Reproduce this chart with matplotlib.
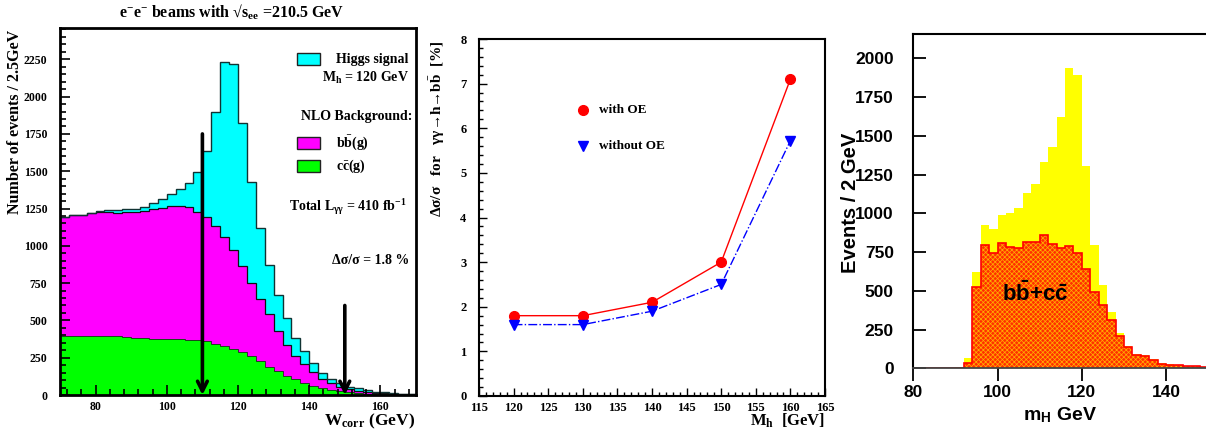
import matplotlib
matplotlib.use('Agg')
import matplotlib.pyplot as plt
import numpy as np
from matplotlib.patches import Rectangle
from matplotlib.ticker import MultipleLocator, FixedLocator

plt.rcParams['mathtext.fontset'] = 'custom'
plt.rcParams['mathtext.rm'] = 'Liberation Serif:bold'
plt.rcParams['mathtext.bf'] = 'Liberation Serif:bold'
plt.rcParams['mathtext.it'] = 'Liberation Serif:bold'
plt.rcParams['mathtext.sf'] = 'Liberation Sans:bold'
plt.rcParams['hatch.linewidth'] = 0.5

SERIF = ['Liberation Serif', 'DejaVu Serif']
SANS = ['Liberation Sans', 'DejaVu Sans']

# ---------------- data: panel 1 (W_corr, 2.5 GeV bins from 70 to 170) ----------------
w_lo, w_hi, w_bin = 70.0, 170.0, 2.5
cc_counts = [394, 394, 396, 398, 398, 398, 394, 389, 385, 380, 376, 376, 376, 374, 371, 367,
             360, 344, 326, 308, 286, 259, 230, 191, 162, 130, 106, 79, 61, 45, 34, 25, 18, 14,
             9, 7, 4, 3, 2, 1]
bb_counts = [799, 810, 808, 822, 831, 828, 826, 837, 844, 853, 868, 880, 889, 894, 887, 859,
             833, 788, 732, 667, 580, 495, 411, 349, 266, 208, 157, 128, 90, 63, 45, 31, 20, 15,
             11, 9, 8, 5, 4, 3]
higgs_counts = [0, 0, 4, 2, 6, 14, 20, 18, 20, 29, 41, 60, 81, 112, 166, 271, 442, 763, 1174,
                1247, 954, 675, 477, 331, 245, 180, 120, 86, 63, 38, 29, 27, 18, 16, 14, 6, 6,
                3, 3, 3]
arrow_cuts = [110, 150]
arrow_tops = [1750, 600]

# ---------------- data: panel 2 ----------------
mh = [120, 130, 140, 150, 160]
err_with_oe = [1.8, 1.8, 2.1, 3.0, 7.1]
err_without_oe = [1.6, 1.6, 1.9, 2.5, 5.72]

# ---------------- data: panel 3 (m_H, 2 GeV bins from 80) ----------------
m_lo, m_bin = 80.0, 2.0
total3 = [0, 0, 0, 0, 2, 8, 69, 619, 925, 899, 987, 1000, 1034, 1131, 1191, 1331, 1428, 1621,
          1940, 1890, 1307, 796, 535, 361, 228, 142, 92, 84, 60, 34, 26, 21, 18, 18, 8]
bkg3 = [2, 2, 2, 2, 2, 5, 34, 523, 794, 742, 811, 781, 774, 815, 815, 858, 800, 778, 787, 746,
        641, 492, 409, 312, 211, 140, 88, 78, 56, 30, 24, 19, 15, 15, 6]
xticks3 = [80, 100, 120, 140]

W, H = 1206, 432
fig = plt.figure(figsize=(W / 100, H / 100), dpi=100)


def fx(x):
    return x / W


def fy(y):
    return 1 - y / H


# ======================= Panel 1 =======================
ax1 = fig.add_axes([fx(60), 37 / H, 356 / W, 367 / H])
cc = np.array(cc_counts, float)
bb = np.array(bb_counts, float)
hg = np.array(higgs_counts, float)
edges1 = w_lo + w_bin * np.arange(len(cc) + 1)
ax1.stairs(cc, edges1, baseline=0, fill=True, color='#00ff00', lw=0)
ax1.stairs(cc + bb, edges1, baseline=cc, fill=True, color='#ff00ff', lw=0)
ax1.stairs(cc + bb + hg, edges1, baseline=cc + bb, fill=True, color='#00ffff', lw=0)
ax1.stairs(cc, edges1, baseline=None, color='#222222', lw=0.6)
ax1.stairs(cc + bb, edges1, baseline=None, color='#111111', lw=0.9)
ax1.stairs(cc + bb + hg, edges1, baseline=None, color='#113333', lw=1.0)
for xc, yt in zip(arrow_cuts, arrow_tops):
    ax1.annotate('', xy=(xc, 0), xytext=(xc, yt),
                 arrowprops=dict(arrowstyle='->,head_length=0.7,head_width=0.35',
                                 lw=2.6, color='black', shrinkA=0, shrinkB=0))
ax1.set_xlim(w_lo, w_hi)
ax1.set_ylim(0, 2460)
ax1.xaxis.set_major_locator(MultipleLocator(20))
ax1.xaxis.set_minor_locator(MultipleLocator(4))
ax1.yaxis.set_major_locator(MultipleLocator(250))
ax1.yaxis.set_minor_locator(MultipleLocator(50))
ax1.tick_params(which='both', direction='in', top=False, right=False, width=1.2)
ax1.tick_params(which='major', length=7)
ax1.tick_params(which='minor', length=4)
ax1.tick_params(axis='y', pad=9)
ax1.tick_params(axis='x', pad=4)
for s in ax1.spines.values():
    s.set_linewidth(2)
for lab in ax1.get_xticklabels() + ax1.get_yticklabels():
    lab.set_family(SERIF)
    lab.set_weight('bold')
    lab.set_fontsize(8.5)

# legend boxes
for y0, col in [(53, '#00ffff'), (137, '#ff00ff'), (160, '#00ff00')]:
    fig.patches.append(Rectangle((fx(297), fy(y0 + 11.5)), 23 / W, 11.5 / H,
                                 transform=fig.transFigure, facecolor=col,
                                 edgecolor='#222222', lw=1))
tkw = dict(family=SERIF, weight='bold', fontsize=10, va='center')
fig.text(fx(336), fy(59), 'Higgs signal', ha='left', **tkw)
fig.text(fx(409), fy(78), r'M$_{\mathbf{h}}$ = 120 GeV', ha='right', **tkw)
fig.text(fx(412), fy(116), 'NLO Background:', ha='right', **tkw)
fig.text(fx(336), fy(143), r'b$\bar{\mathbf{b}}$(g)', ha='left', **tkw)
fig.text(fx(336), fy(166), r'c$\bar{\mathbf{c}}$(g)', ha='left', **tkw)
fig.text(fx(406), fy(207), r'Total L$_{\gamma\gamma}$ = 410 fb$^{\mathbf{-1}}$', ha='right', **tkw)
fig.text(fx(409), fy(260), 'Δσ/σ = 1.8 %', ha='right', **tkw)

fig.text(fx(232), fy(12), r'e$^{\mathbf{-}}$e$^{\mathbf{-}}$ beams with √s$_{\mathbf{ee}}$ =210.5 GeV',
         ha='center', va='center', family=SERIF, weight='bold', fontsize=11.5)
fig.text(fx(15), fy(30), 'Number of events / 2.5GeV', rotation=90, ha='center', va='top',
         family=SERIF, weight='bold', fontsize=11.5)
fig.text(fx(415), fy(421), r'W$_{\mathbf{corr}}$ (GeV)', ha='right', va='center',
         family=SERIF, weight='bold', fontsize=12.5)

# ======================= Panel 2 =======================
ax2 = fig.add_axes([fx(479), 36 / H, 346 / W, 357 / H])
ax2.plot(mh, err_with_oe, '-', color='red', lw=1.0, marker='o', ms=7, mfc='red', mec='red')
ax2.plot(mh, err_without_oe, '-.', color='blue', lw=1.0, marker='v', ms=7, mfc='blue', mec='blue')
ax2.plot([130], [6.4], 'o', color='red', ms=7)
ax2.plot([130], [5.6], 'v', color='blue', ms=7)
ax2.text(132.3, 6.4, 'with OE', ha='left', va='center', family=SERIF, weight='bold', fontsize=9.5)
ax2.text(132.3, 5.6, 'without OE', ha='left', va='center', family=SERIF, weight='bold', fontsize=9.5)
ax2.set_xlim(115, 165)
ax2.set_ylim(0, 8)
ax2.xaxis.set_major_locator(MultipleLocator(5))
ax2.xaxis.set_minor_locator(MultipleLocator(1))
ax2.yaxis.set_major_locator(MultipleLocator(1))
ax2.yaxis.set_minor_locator(MultipleLocator(0.2))
ax2.tick_params(which='both', direction='in', top=False, right=False, width=1)
ax2.tick_params(which='major', length=6)
ax2.tick_params(which='minor', length=3)
ax2.tick_params(axis='y', pad=9)
ax2.tick_params(axis='x', pad=4)
for s in ax2.spines.values():
    s.set_linewidth(1.5)
for lab in ax2.get_xticklabels() + ax2.get_yticklabels():
    lab.set_family(SERIF)
    lab.set_weight('bold')
    lab.set_fontsize(9)
fig.text(fx(437), fy(40), r'Δσ/σ   for   γγ→h→b$\bar{\mathbf{b}}$  [%]', rotation=90,
         ha='center', va='top', family=SERIF, weight='bold', fontsize=11)
fig.text(fx(825), fy(421), r'M$_{\mathbf{h}}$  [GeV]', ha='right', va='center',
         family=SERIF, weight='bold', fontsize=12)

# ======================= Panel 3 =======================
ax3 = fig.add_axes([fx(913.3), (H - 368.3) / H, 337 / W, 334 / H])
tot3 = np.array(total3, float)
bk3 = np.array(bkg3, float)
edges3 = m_lo + m_bin * np.arange(len(tot3) + 1)
ax3.stairs(tot3, edges3, fill=True, color='#ffff00', lw=0)
ax3.stairs(bk3, edges3, fill=True, facecolor='#ff3000', edgecolor='#ffb000',
           hatch='x' * 7, lw=0)
ax3.stairs(bk3, edges3, baseline=None, color='#ff0000', lw=1.2)
ax3.set_xlim(80, 160)
ax3.set_ylim(0, 2155)
ax3.xaxis.set_major_locator(FixedLocator(xticks3))
ax3.yaxis.set_major_locator(MultipleLocator(250))
ax3.tick_params(axis='y', direction='in', length=9, width=1.3, pad=14, right=False)
ax3.tick_params(axis='x', direction='out', length=9, width=1.3, pad=3, top=False)
ax3.spines['right'].set_visible(False)
for s in ['left', 'top']:
    ax3.spines[s].set_linewidth(1.5)
ax3.spines['bottom'].set_linewidth(1.3)
ax3.spines['bottom'].set_color('#444444')
for lab in ax3.get_xticklabels() + ax3.get_yticklabels():
    lab.set_family(SANS)
    lab.set_weight('bold')
    lab.set_fontsize(12.5)
fig.text(fx(1035), fy(293), r'$\mathsf{b\bar{b}{+}c\bar{c}}$', ha='center', va='center', fontsize=16)
fig.text(fx(850), fy(203), 'Events / 2 GeV', rotation=90, ha='center', va='center',
         family=SANS, weight='bold', fontsize=14.5)
fig.text(fx(1060), fy(415), r'm$_{\mathregular{H}}$ GeV', ha='center', va='center',
         family=SANS, weight='bold', fontsize=14)

fig.savefig('out.png', dpi=100)
